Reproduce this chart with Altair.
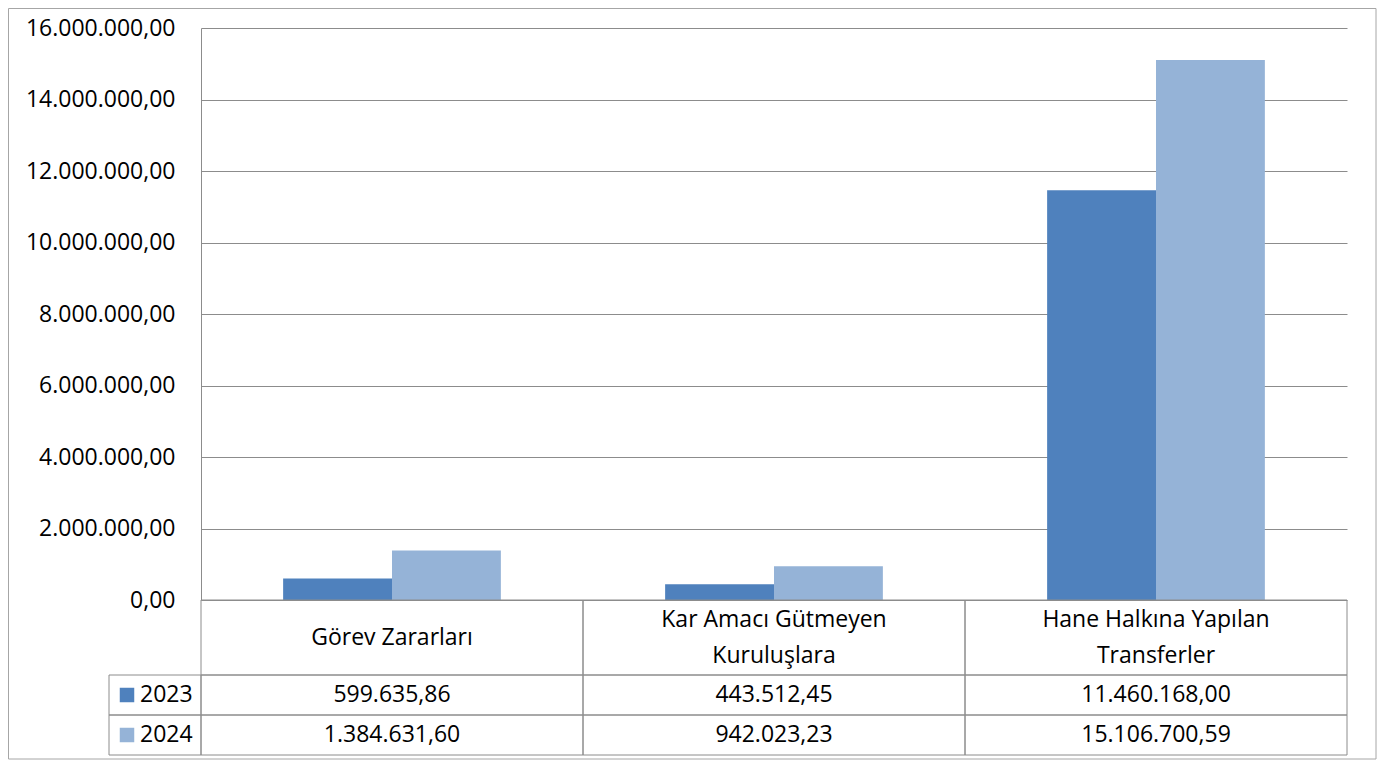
import altair as alt
import pandas as pd

# ---- data ----
categories = ["Görev Zararları", "Kar Amacı Gütmeyen Kuruluşlara", "Hane Halkına Yapılan Transferler"]
header_lines = [["Görev Zararları"], ["Kar Amacı Gütmeyen", "Kuruluşlara"], ["Hane Halkına Yapılan", "Transferler"]]
years = ["2023", "2024"]
values_2023 = [599635.86, 443512.45, 11460168.00]
values_2024 = [1384631.60, 942023.23, 15106700.59]
y_ticks = [0, 2000000, 4000000, 6000000, 8000000, 10000000, 12000000, 14000000, 16000000]
colors = ["#4F81BD", "#95B3D7"]

FONT = "Open Sans"
FS = 23
GRID = "#8c8c8c"
LINE_H = 36

bars_df = pd.DataFrame({
    "category": categories * 2,
    "year": [years[0]] * 3 + [years[1]] * 3,
    "value": values_2023 + values_2024,
})
header_df = pd.DataFrame({
    "category": categories,
    "label": ["\n".join(l) for l in header_lines],
    "nlines": [len(l) for l in header_lines],
    "row": ["h"] * 3,
})
legend_df = pd.DataFrame({"year": years})
frame_df = pd.DataFrame({"k": [0]})

PLOT_W = 1146
BAR_H = 572
HEAD_H = 75
ROW_H = 80
PAD_T = 20
PAD_L = 193
TOTAL_H = BAR_H + HEAD_H + ROW_H
SVG_H = PAD_T + TOTAL_H + 5

color_scale = alt.Scale(domain=years, range=colors)
cat_scale_bars = alt.Scale(domain=categories, paddingInner=0.43, paddingOuter=0.215)
cat_scale_tab = alt.Scale(domain=categories, paddingInner=0, paddingOuter=0)
head_y = alt.Scale(domain=["h"], range=[BAR_H, BAR_H + HEAD_H], paddingInner=0, paddingOuter=0)
row_y = alt.Scale(domain=years, range=[BAR_H + HEAD_H, TOTAL_H], paddingInner=0, paddingOuter=0)

frame = alt.Chart(frame_df).mark_rect(fillOpacity=0, stroke="#a6a6a6", strokeWidth=1).encode(
    x=alt.value(-PAD_L + 0.5), x2=alt.value(1175),
    y=alt.value(-PAD_T + 0.5), y2=alt.value(SVG_H - PAD_T - 1)
)

bars = alt.Chart(bars_df).mark_bar().encode(
    x=alt.X("category:N", scale=cat_scale_bars, axis=None, sort=categories),
    xOffset=alt.XOffset("year:N", scale=alt.Scale(domain=years, paddingInner=0, paddingOuter=0)),
    y=alt.Y("value:Q", scale=alt.Scale(domain=[0, 16000000], range=[BAR_H, 0], nice=False),
            axis=alt.Axis(values=y_ticks, format=",.2f", tickSize=0, labelPadding=26,
                          labelFontSize=FS, labelColor="black", labelFont=FONT,
                          gridColor=GRID, domainColor=GRID, title=None, grid=True)),
    color=alt.Color("year:N", scale=color_scale, legend=None),
)

head_rect = alt.Chart(header_df).mark_rect(fillOpacity=0, stroke=GRID, strokeWidth=1).encode(
    x=alt.X("category:N", scale=cat_scale_tab, axis=None, sort=categories),
    y=alt.Y("row:N", scale=head_y, axis=None),
)
head_text_1 = alt.Chart(header_df).transform_filter("datum.nlines == 1").mark_text(
    font=FONT, fontSize=FS, color="black", align="center", baseline="middle"
).encode(
    x=alt.X("category:N", scale=cat_scale_tab, axis=None, sort=categories),
    y=alt.Y("row:N", scale=head_y, axis=None),
    text="label:N",
)
head_text_2 = alt.Chart(header_df).transform_filter("datum.nlines == 2").mark_text(
    font=FONT, fontSize=FS, color="black", lineBreak="\n", lineHeight=LINE_H,
    align="center", baseline="middle", dy=-LINE_H / 2
).encode(
    x=alt.X("category:N", scale=cat_scale_tab, axis=None, sort=categories),
    y=alt.Y("row:N", scale=head_y, axis=None),
    text="label:N",
)

val_rect = alt.Chart(bars_df).mark_rect(fillOpacity=0, stroke=GRID, strokeWidth=1).encode(
    x=alt.X("category:N", scale=cat_scale_tab, axis=None, sort=categories),
    y=alt.Y("year:N", scale=row_y, axis=None),
)
val_text = alt.Chart(bars_df).mark_text(
    font=FONT, fontSize=FS, color="black", align="center", baseline="middle"
).encode(
    x=alt.X("category:N", scale=cat_scale_tab, axis=None, sort=categories),
    y=alt.Y("year:N", scale=row_y, axis=None),
    text=alt.Text("value:Q", format=",.2f"),
)

leg_rect = alt.Chart(legend_df).mark_rect(fillOpacity=0, stroke=GRID, strokeWidth=1).encode(
    x=alt.value(-92), x2=alt.value(0),
    y=alt.Y("year:N", scale=row_y, axis=None),
)
swatch = alt.Chart(legend_df).mark_square(size=210, opacity=1, filled=True).encode(
    x=alt.value(-74),
    y=alt.Y("year:N", scale=row_y, axis=None),
    color=alt.Color("year:N", scale=color_scale, legend=None),
)
leg_text = alt.Chart(legend_df).mark_text(
    font=FONT, fontSize=FS, color="black", align="left", baseline="middle"
).encode(
    x=alt.value(-61),
    y=alt.Y("year:N", scale=row_y, axis=None),
    text="year:N",
)

chart = alt.layer(
    frame, bars, head_rect, head_text_1, head_text_2, val_rect, val_text, leg_rect, swatch, leg_text
).resolve_scale(
    x="independent", y="independent"
).properties(
    width=PLOT_W, height=TOTAL_H,
    autosize=alt.AutoSizeParams(type="none"),
    padding={"left": PAD_L, "right": 30, "top": PAD_T, "bottom": 5},
).configure(
    font=FONT,
    locale={"number": {"decimal": ",", "thousands": ".", "grouping": [3], "currency": ["", ""]}},
).configure_view(strokeWidth=0)

chart.save("out.html", embed_options={"renderer": "svg", "actions": False})
